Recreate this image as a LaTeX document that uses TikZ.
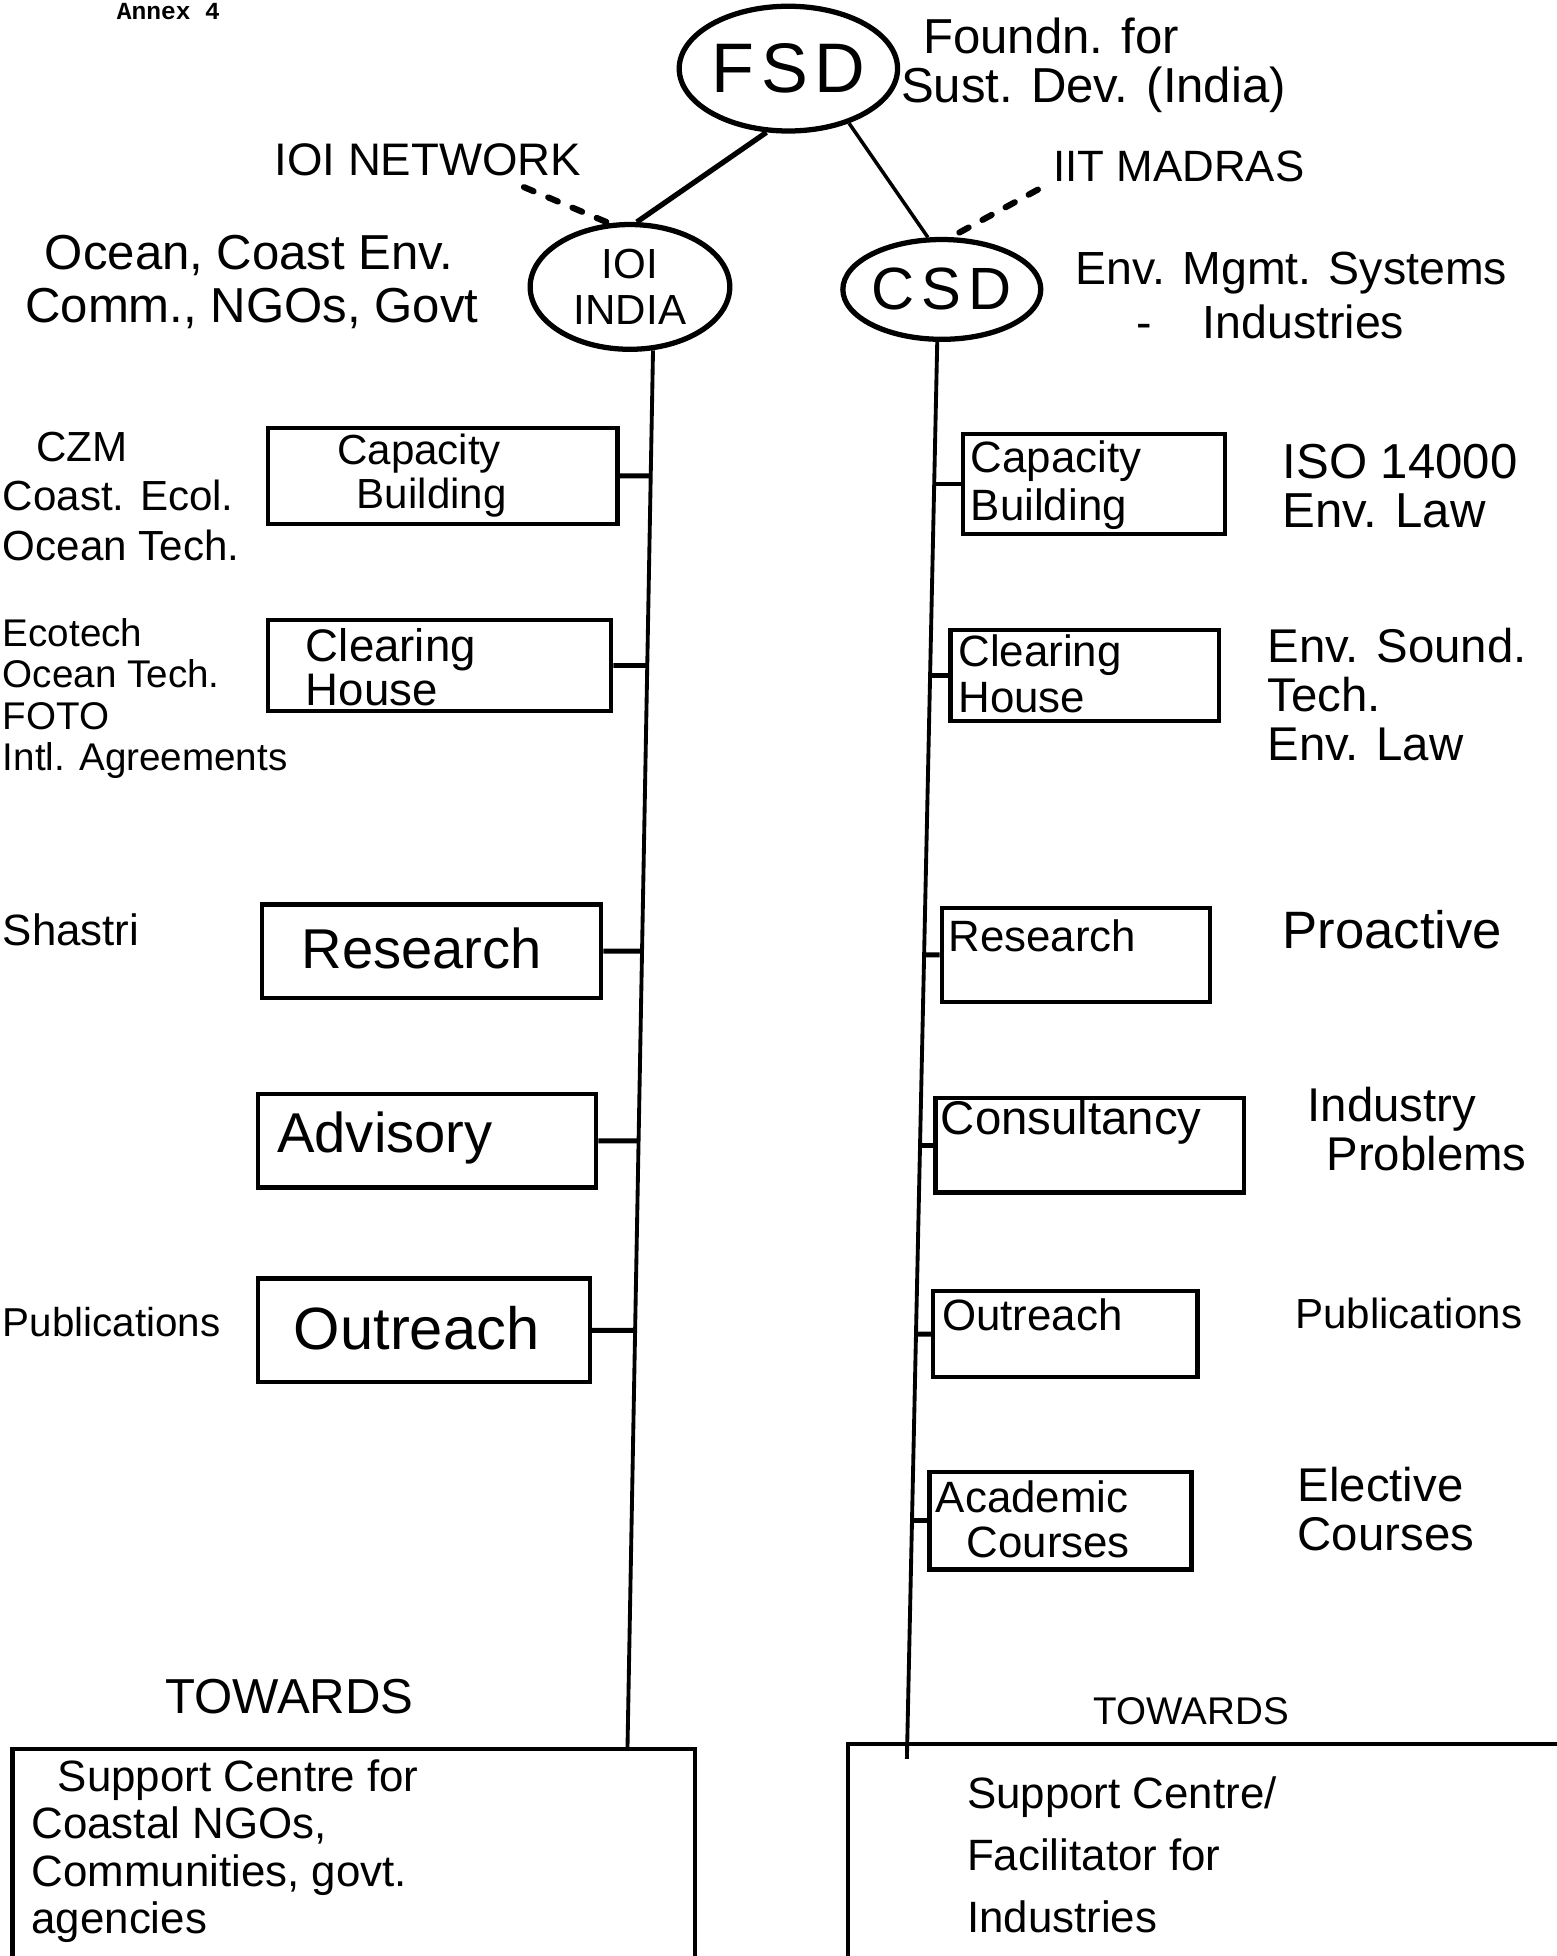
\documentclass[tikz,border=0pt]{standalone}
\usepackage{fontspec}
\setmainfont{Liberation Sans}
\newfontfamily\typew{Liberation Mono}
\usetikzlibrary{shapes.geometric,fit}
\newcommand\myfs[2]{\fontsize{#1pt}{#2pt}\selectfont}
\begin{document}
\begin{tikzpicture}[x=0.025cm,y=-0.025cm,
  oval/.style={draw,ellipse,line width=3pt,inner sep=0pt},
  box/.style={draw,line width=2.5pt,inner sep=0pt},
  trunk/.style={line width=2.2pt},
  stub/.style={line width=2.8pt},
  dotline/.style={line width=3.5pt,dash pattern=on 6pt off 9pt,line cap=round},
  txt/.style={inner sep=0pt,align=left},
]
\useasboundingbox (0,0) rectangle (1248,1568);
\clip (0,0) rectangle (1248,1568);

% top typed heading
\node[txt,font={\typew\bfseries\myfs{14}{14}}] (annex) at (135,9) {Annex 4};

% ovals
\node[oval,minimum width=4.375cm,minimum height=2.5cm,font={\myfs{40}{40}}] (FSD) at (632,55) {F\hspace{4pt}S\hspace{4pt}D};
\node[oval,minimum width=4cm,minimum height=2.5cm,font={\myfs{24}{26}},align=center] (IOI) at (505,230) {IOI\\INDIA};
\node[oval,minimum width=3.25cm,minimum height=2cm,font={\myfs{34}{34}}] (CSD) at (755,232) {C\hspace{4pt}S\hspace{4pt}D};

\draw[line width=3pt] (FSD.251) -- (IOI.84);
\draw[line width=2pt] (FSD.318) -- (CSD.105);

% labels near the top
\node[txt,anchor=west,font={\myfs{28}{28}}] (found) at (722,52) {\hspace*{0.45em}Foundn. for\\Sust. Dev. (India)};
\node[txt,font={\myfs{26}{26}}] (ioinet) at (343,128) {IOI NETWORK};
\node[txt,font={\myfs{25}{25}}] (iitm) at (945,133) {IIT MADRAS};
\coordinate (d1) at (420,150);
\coordinate (d2) at (832,152);
\draw[dotline] (d1) -- (IOI.108);
\draw[dotline] (d2) -- (CSD.80);

\node[txt,anchor=west,font={\myfs{28}{30}}] (ocean) at (20,226) {\hspace*{0.4em}Ocean, Coast Env.\\Comm., NGOs, Govt};
\node[txt,anchor=west,font={\myfs{26.5}{30.6}}] (envm) at (862,237) {Env. Mgmt. Systems\\\hspace*{1.3em}-\hspace{1.1em}Industries};

% trunks
\coordinate (lbot) at (503,1402);
\coordinate (rbot) at (727,1410);
\draw[trunk] (IOI.290) -- (lbot);
\draw[trunk] (CSD.265) -- (rbot);

% left boxes
\node[box,fit={(215,343) (495,420)}] (L1) {};
\node[box,fit={(215,497) (490,570)}] (L2) {};
\node[box,fit={(210,725) (482,800)}] (L3) {};
\node[box,fit={(207,877) (478,952)}] (L4) {};
\node[box,fit={(207,1025) (473,1108)}] (L5) {};
\node[txt,align=center,font={\myfs{24}{25}}] (L1t) at (336,381) {Capacity\\\hspace*{0.6em}Building};
\node[txt,anchor=west,font={\myfs{26}{25}}] (L2t) at (245,535) {Clearing\\House};
\node[txt,font={\myfs{32}{32}}] (L3t) at (338,760) {Research};
\node[txt,anchor=west,font={\myfs{32}{32}}] (L4t) at (222,912) {Advisory};
\node[txt,font={\myfs{34}{34}}] (L5t) at (334,1065) {Outreach};

\coordinate (lj1) at (521.2,381.5);
\coordinate (lj2) at (518.5,533.5);
\coordinate (lj3) at (514.4,762.5);
\coordinate (lj4) at (511.7,914.5);
\coordinate (lj5) at (509.0,1066.5);
\draw[stub] (L1.east) -- (lj1);
\draw[stub] (L2.east) -- (lj2);
\draw[stub] (L3.east) -- (lj3);
\draw[stub] (L4.east) -- (lj4);
\draw[stub] (L5.east) -- (lj5);

% left annotations
\node[txt,anchor=west,font={\myfs{24}{28}}] (a1) at (2,398) {\hspace*{0.8em}CZM\\Coast. Ecol.\\Ocean Tech.};
\node[txt,anchor=west,font={\myfs{22}{23.5}}] (a2) at (2,560) {Ecotech\\Ocean Tech.\\FOTO\\Intl. Agreements};
\node[txt,anchor=west,font={\myfs{25}{25}}] (a3) at (2,745) {Shastri};
\node[txt,anchor=west,font={\myfs{23}{23}}] (a4) at (2,1060) {Publications};

% right boxes
\node[box,fit={(772,348) (982,428)}] (R1) {};
\node[box,fit={(762,505) (977,578)}] (R2) {};
\node[box,fit={(755,728) (970,803)}] (R3) {};
\node[box,fit={(750,880) (997,956)}] (R4) {};
\node[box,fit={(748,1035) (960,1104)}] (R5) {};
\node[box,fit={(745,1180) (955,1258)}] (R6) {};
\node[txt,anchor=west,font={\myfs{25}{27}}] (R1t) at (778,389) {Capacity\\Building};
\node[txt,anchor=west,font={\myfs{25}{26}}] (R2t) at (768,540) {Clearing\\House};
\node[txt,anchor=west,font={\myfs{25}{25}}] (R3t) at (760,750) {Research};
\node[txt,anchor=west,font={\myfs{27}{27}}] (R4t) at (754,900) {Consultancy};
\node[txt,anchor=west,font={\myfs{25}{25}}] (R5t) at (755,1054) {Outreach};
\node[txt,anchor=west,font={\myfs{25}{26}}] (R6t) at (750,1218) {Academic\\\hspace*{0.7em}Courses};

\coordinate (rj1) at (749.0,388);
\coordinate (rj2) at (745.7,541.5);
\coordinate (rj3) at (740.9,765.5);
\coordinate (rj4) at (737.6,918);
\coordinate (rj5) at (734.3,1069.5);
\coordinate (rj6) at (731.1,1219);
\draw[stub] (rj1) -- (R1.west);
\draw[stub] (rj2) -- (R2.west);
\draw[stub] (rj3) -- (R3.west);
\draw[stub] (rj4) -- (R4.west);
\draw[stub] (rj5) -- (R5.west);
\draw[stub] (rj6) -- (R6.west);

% right annotations
\node[txt,anchor=west,font={\myfs{28}{28}}] (r1) at (1028,390) {ISO 14000\\Env. Law};
\node[txt,anchor=west,font={\myfs{27}{28}}] (r2) at (1016,557) {Env. Sound.\\Tech.\\Env. Law};
\node[txt,anchor=west,font={\myfs{30}{30}}] (r3) at (1028,745) {Proactive};
\node[txt,anchor=west,font={\myfs{27}{28}}] (r4) at (1048,905) {Industry\\\hspace*{0.4em}Problems};
\node[txt,anchor=west,font={\myfs{24}{24}}] (r5) at (1038,1053) {Publications};
\node[txt,anchor=west,font={\myfs{27}{28}}] (r6) at (1040,1210) {Elective\\Courses};

% bottom
\node[txt,font={\myfs{28}{28}}] (tw1) at (232,1360) {TOWARDS};
\node[txt,font={\myfs{22}{22}}] (tw2) at (955,1372) {TOWARDS};
\node[box,fit={(10,1402) (557,1620)}] (SL) {};
\node[box,fit={(680,1398) (1270,1620)}] (SR) {};
\node[txt,anchor=west,font={\myfs{25}{27}}] (slt) at (25,1484) {\hspace*{0.6em}Support Centre for\\Coastal NGOs,\\Communities, govt.\\agencies};
\node[txt,anchor=west,font={\myfs{25}{35.5}}] (srt) at (775,1487) {Support Centre/\\Facilitator for\\Industries};
\end{tikzpicture}
\end{document}
